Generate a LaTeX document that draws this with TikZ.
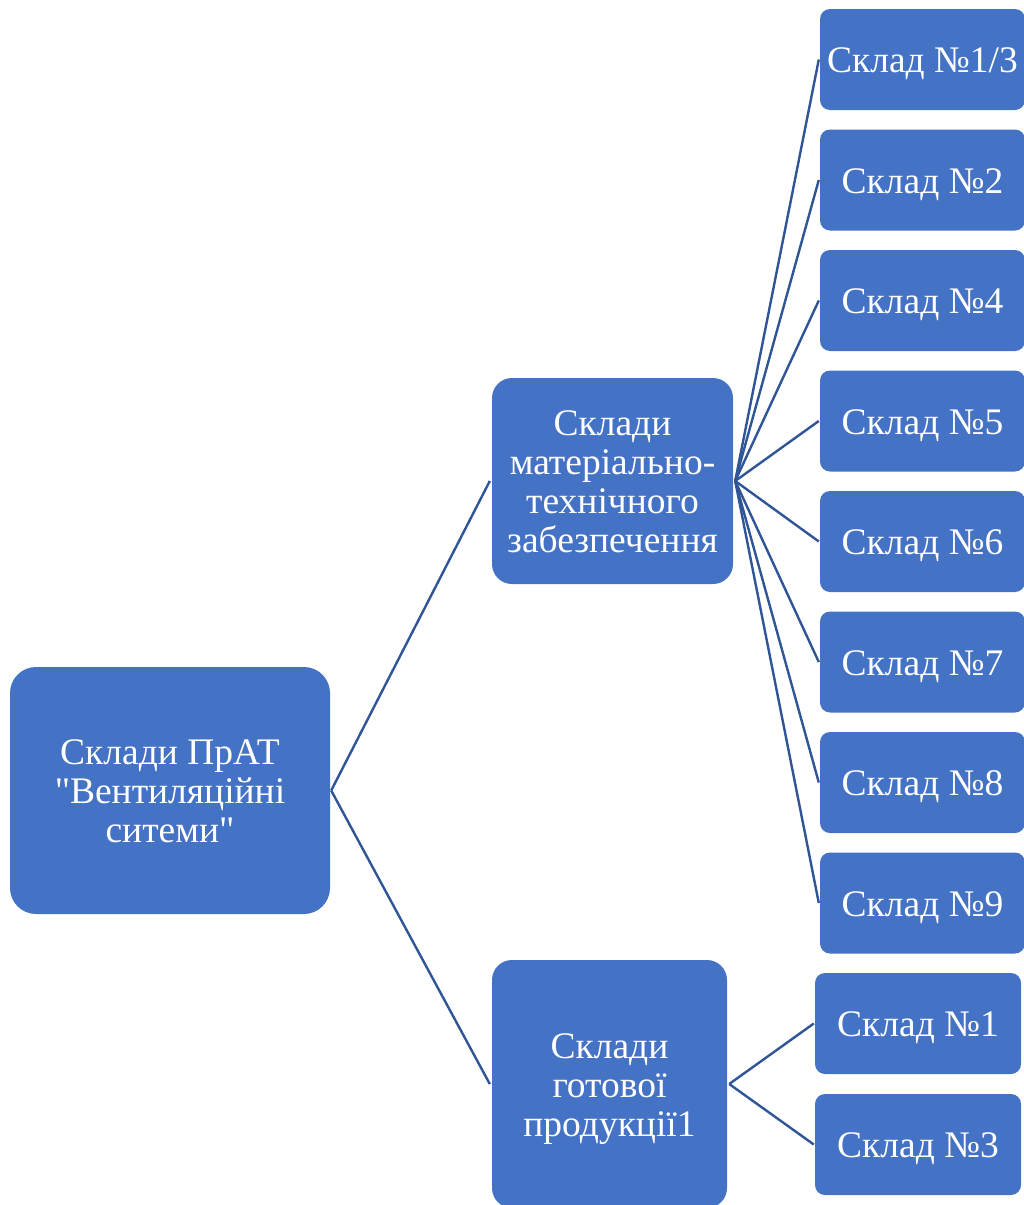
\documentclass[tikz,border=0pt]{standalone}
\usepackage{fontspec}
\setmainfont{Liberation Serif}[Ligatures=TeXOff]
\definecolor{boxblue}{HTML}{4472C4}
\definecolor{lineblue}{HTML}{2F5597}
\begin{document}
\begin{tikzpicture}[x=1pt,y=-1pt,
  box/.style={rectangle, fill=boxblue, draw=none, text=white, align=center,
    inner sep=0pt, font=\fontsize{37.5}{39}\selectfont},
  leaf/.style={box, rounded corners=10pt, minimum width=#1, minimum height=101pt},
  conn/.style={draw=lineblue, line width=2.4pt}]
\useasboundingbox (0,0) rectangle (1023,1205);
\node[box, rounded corners=26pt, minimum width=320pt, minimum height=247pt] (root) at (170,790.5) {};
\node[box] at ([yshift=-1pt]root.center) {Склади ПрАТ\\"Вентиляційні\\ситеми"};
\node[box, rounded corners=20pt, minimum width=241pt, minimum height=206pt] (mat) at (612.5,481) {};
\node[box] at ([yshift=-1pt]mat.center) {Склади\\матеріально-\\технічного\\забезпечення};
\node[box, rounded corners=20pt, minimum width=235pt, minimum height=248pt] (got) at (609.5,1084) {};
\node[box] at ([yshift=-5pt]got.center) {Склади\\готової\\продукції1};
\foreach \n/\t [count=\i from 0] in {a/1\slash 3,b/2,c/4,d/5,e/6,f/7,g/8,h/9}{
  \node[leaf=205pt] (\n) at (922.5,59.5+120.5*\i) {};
  \node[box, anchor=base] at ([yshift=-13pt]\n.center) {Склад №\t};
}
\node[leaf=206pt] (p1) at (918,1023.5) {};
\node[box, anchor=base] at ([yshift=-13pt]p1.center) {Склад №1};
\node[leaf=206pt] (p3) at (918,1144.5) {};
\node[box, anchor=base] at ([yshift=-13pt]p3.center) {Склад №3};
\draw[conn] ([xshift=1pt]root.east) -- ([xshift=-2pt]mat.west);
\draw[conn] ([xshift=1pt]root.east) -- ([xshift=-2pt]got.west);
\foreach \n in {a,b,c,d,e,f,g,h}
  \draw[conn] ([xshift=2pt]mat.east) -- ([xshift=-1pt]\n.west);
\draw[conn] ([xshift=2pt]got.east) -- ([xshift=-1pt]p1.west);
\draw[conn] ([xshift=2pt]got.east) -- ([xshift=-1pt]p3.west);
\end{tikzpicture}
\end{document}
